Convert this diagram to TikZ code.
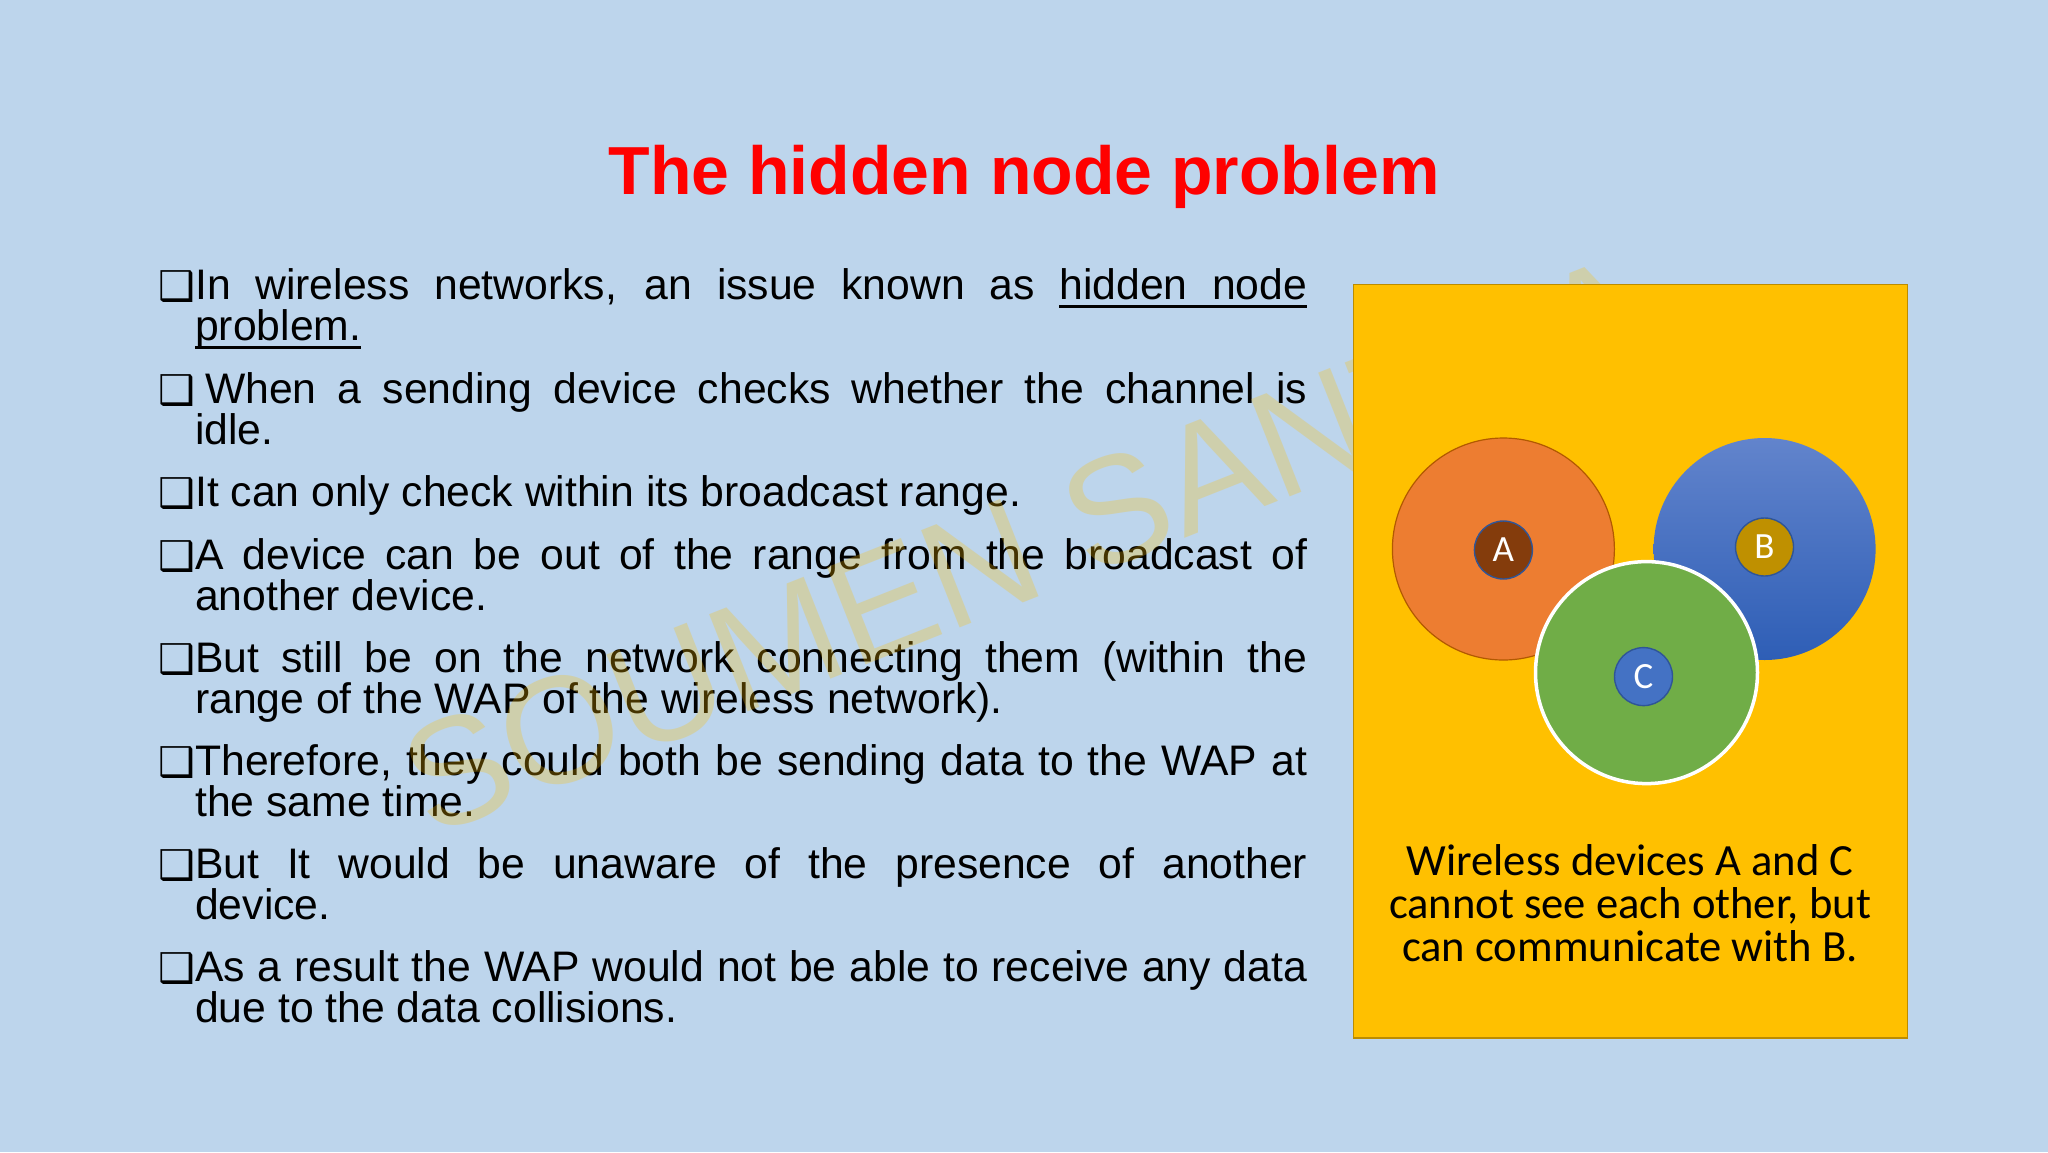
\documentclass[tikz,border=0pt]{standalone}
\usepackage{fontspec}
\usepackage{xcolor}
\usetikzlibrary{positioning,shapes}
\setmainfont{Liberation Sans}
\newfontfamily\capfont{Carlito}
\newfontfamily\markfont{DejaVu Sans}
\definecolor{slidebg}{HTML}{BDD5EC}
\definecolor{panelfill}{HTML}{FFC000}
\definecolor{panelline}{HTML}{BC8C00}
\tolerance=9999
\emergencystretch=200pt
\hyphenpenalty=10000
\newsavebox\ulsave
\newcommand{\ulword}[1]{\sbox\ulsave{#1}\rlap{\usebox\ulsave}\vrule height -5pt depth 8pt width \wd\ulsave}
\newcommand{\ulgap}{\leaders\hrule height -5pt depth 8pt\hskip\fontdimen2\font plus\fontdimen3\font minus\fontdimen4\font}
\newcommand{\boxitem}[2][0pt]{\hangindent=37pt\hangafter=1\relax\makebox[\dimexpr37pt+#1\relax][l]{\smash{\raisebox{-1pt}{\fontsize{41}{41}\markfont ❑}}}#2\strut\par}
\tikzset{
  itembox/.style={anchor=north west, inner sep=0pt, text width=1149pt, align=justify,
    font=\fontsize{42.7}{41}\selectfont},
  rangecircle/.style={circle, minimum size=222pt, inner sep=0pt, line width=1.2pt},
  devicedot/.style={circle, minimum size=58pt, inner sep=0pt, line width=1.4pt, text=white,
    font=\capfont\fontsize{37}{37}\selectfont}
}
\begin{document}
\begin{tikzpicture}[x=1pt,y=-1pt]
  \useasboundingbox (0,0) rectangle (2048,1152);
  \fill[slidebg] (0,0) rectangle (2048,1152);
  \node[text=red, font=\fontsize{68}{68}\selectfont\bfseries] (title) at (1024,177) {The hidden node problem};
  % the list
  \node[itembox] (item1) at (158,268.6) {\boxitem{In wireless networks, an issue known as \ulword{hidden}\ulgap\ulword{node}\linebreak \ulword{problem.}}};
  \node[itembox] (item2) at (158,371.9) {\boxitem[10pt]{When a sending device checks whether the channel is\linebreak idle.}};
  \node[itembox] (item3) at (158,475.3) {\boxitem{It can only check within its broadcast range.}};
  \node[itembox] (item4) at (158,538) {\boxitem{A device can be out of the range from the broadcast of\linebreak another device.}};
  \node[itembox] (item5) at (158,641.2) {\boxitem{But still be on the network connecting them (within the\linebreak range of the WAP of the wireless network).}};
  \node[itembox] (item6) at (158,744.4) {\boxitem{Therefore, they could both be sending data to the WAP at\linebreak the same time.}};
  \node[itembox] (item7) at (158,847.6) {\boxitem{But It would be unaware of the presence of another\linebreak device.}};
  \node[itembox] (item8) at (158,950.8) {\boxitem{As a result the WAP would not be able to receive any data\linebreak due to the data collisions.}};
  % watermark goes under the panel
  \node[rotate=21.6, text=panelfill, opacity=.27, font=\fontsize{152}{152}\selectfont, anchor=west] (mark) at (408,790) {SOUMEN SANTRA};
  \node[draw=panelline, fill=panelfill, line width=1.5pt, anchor=north west,
    minimum width=554pt, minimum height=753.5pt, inner sep=0pt] (panel) at (1352.6,283.5) {};
  % the three ranges
  \node[rangecircle, draw=orange!70!black, fill={rgb,255:red,237;green,125;blue,49}] (rangeA) at (1503.4,549) {};
  \node[rangecircle, top color={rgb,255:red,98;green,132;blue,204}, middle color={rgb,255:red,62;green,110;blue,200},
    bottom color={rgb,255:red,46;green,94;blue,182}] (rangeB) at (1764.6,549) {};
  \node[rangecircle, draw=white, line width=3.5pt, minimum size=222pt, fill={rgb,255:red,112;green,173;blue,71}] (rangeC) at (1646.5,672.6) {};
  \node[devicedot, draw={rgb,255:red,47;green,85;blue,151}, fill={rgb,255:red,132;green,60;blue,12}] (devA) at (1503.4,550) {A};
  \node[devicedot, draw={rgb,255:red,47;green,85;blue,151}, fill={rgb,255:red,191;green,144;blue,0}] (devB) at (1764.5,547) {B};
  \node[devicedot, draw={rgb,255:red,47;green,85;blue,151}, fill={rgb,255:red,68;green,114;blue,196}] (devC) at (1643.5,676.6) {C};
  \node[align=center, inner sep=0pt, font=\capfont\fontsize{44.6}{43}\selectfont] (caption) at (1630,903)
    {Wireless devices A and C\\cannot see each other, but\\can communicate with B.};
\end{tikzpicture}
\end{document}
